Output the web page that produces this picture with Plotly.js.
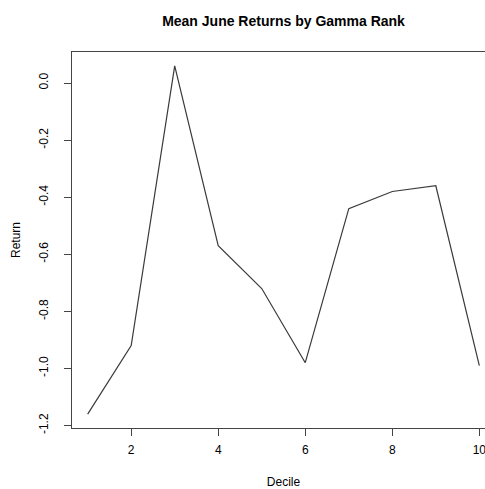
<!DOCTYPE html>
<html>
<head>
<meta charset="utf-8">
<script src="https://cdn.plot.ly/plotly-3.0.1.min.js"></script>
<style>
html,body{margin:0;padding:0;overflow:hidden;background:#fff;}
#chart{width:500px;height:489px;}
</style>
</head>
<body>
<div id="chart"></div>
<script>
const deciles = [1, 2, 3, 4, 5, 6, 7, 8, 9, 10];
const meanReturns = [-1.16, -0.92, 0.06, -0.57, -0.72, -0.98, -0.44, -0.38, -0.36, -0.99];
const xTicks = [2, 4, 6, 8, 10];
const yTicks = [0.0, -0.2, -0.4, -0.6, -0.8, -1.0, -1.2];
const yTickText = ["0.0", "-0.2", "-0.4", "-0.6", "-0.8", "-1.0", "-1.2"];

const font = {family: "Liberation Sans, Arial, sans-serif", size: 12, color: "#000"};

Plotly.newPlot("chart", [{
  x: deciles,
  y: meanReturns,
  type: "scatter",
  mode: "lines",
  line: {color: "#3a3a3a", width: 1.2},
  hoverinfo: "skip"
}], {
  width: 500,
  height: 489,
  margin: {l: 72, r: 5, t: 52, b: 61},
  paper_bgcolor: "#fff",
  plot_bgcolor: "#fff",
  showlegend: false,
  font: font,
  title: {
    text: "<b>Mean June Returns by Gamma Rank</b>",
    font: {family: "Liberation Sans, Arial, sans-serif", size: 14, color: "#000"},
    x: 0.5, xref: "paper", xanchor: "center",
    y: 1, yref: "container", yanchor: "top", pad: {t: 16}
  },
  xaxis: {
    range: [0.64, 10.36],
    tickmode: "array", tickvals: xTicks, ticktext: xTicks.map(String),
    ticks: "outside", ticklen: 7, tickcolor: "#444", tickwidth: 1,
    showline: true, mirror: true, linecolor: "#444", linewidth: 1,
    showgrid: false, zeroline: false,
    ticklabelstandoff: 4,
    tickfont: font,
    title: {text: "Decile", font: font, standoff: 24}
  },
  yaxis: {
    range: [-1.2088, 0.1088],
    tickmode: "array", tickvals: yTicks, ticktext: yTickText,
    tickangle: -90,
    ticks: "outside", ticklen: 7, tickcolor: "#444", tickwidth: 1,
    showline: true, mirror: true, linecolor: "#444", linewidth: 1,
    showgrid: false, zeroline: false,
    ticklabelstandoff: 11,
    tickfont: font,
    title: {text: "Return", font: font, standoff: 14}
  }
}, {displayModeBar: false, staticPlot: true});
</script>
</body>
</html>
